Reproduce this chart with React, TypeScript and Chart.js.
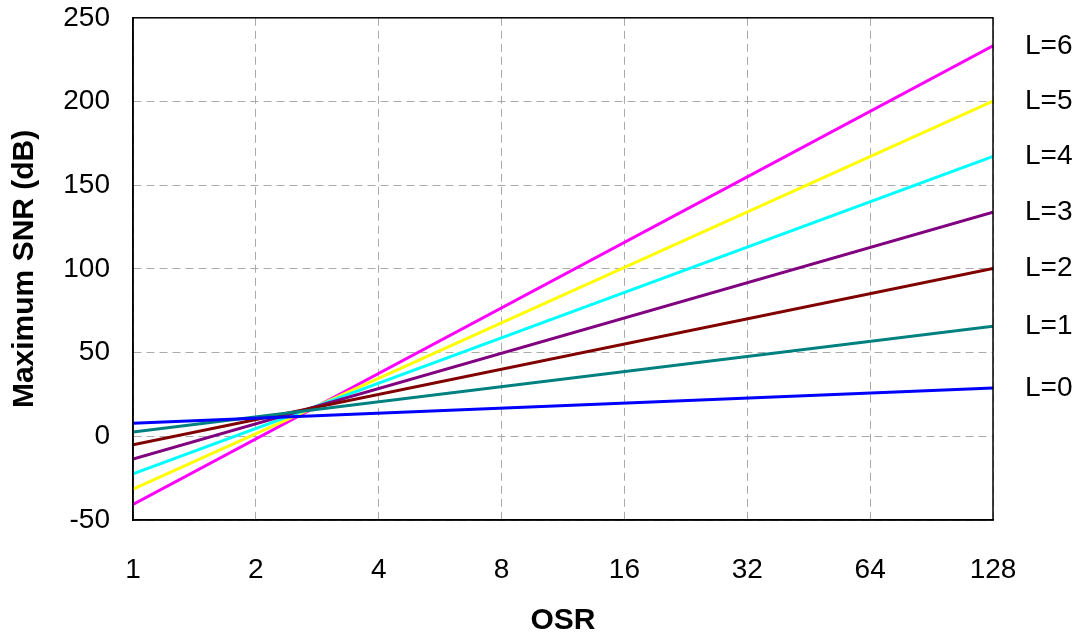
import React, { useEffect, useRef } from "react";
import { Chart, registerables } from "chart.js";

Chart.register(...registerables);

const osrTicks = [1, 2, 4, 8, 16, 32, 64, 128];
const yTicks = [-50, 0, 50, 100, 150, 200, 250];
const osrEnds = [1, 128];

const seriesNames = ["L=0", "L=1", "L=2", "L=3", "L=4", "L=5", "L=6"];
const seriesColors = ["#0000ff", "#008080", "#800000", "#800080", "#00ffff", "#ffff00", "#ff00ff"];

const snrL0 = [7.8, 28.9];
const snrL1 = [2.6, 65.8];
const snrL2 = [-5.1, 100.2];
const snrL3 = [-13.6, 133.9];
const snrL4 = [-22.5, 167.2];
const snrL5 = [-31.5, 200.3];
const snrL6 = [-40.7, 233.2];

const seriesValues = [snrL0, snrL1, snrL2, snrL3, snrL4, snrL5, snrL6];

const FONT = "'Liberation Sans', Arial, Helvetica, sans-serif";
const SHIFT = 22;

const frameAndLabels = {
  id: "frameAndLabels",
  afterDatasetsDraw(chart: any) {
    const { ctx, chartArea } = chart;
    const ys = chart.scales.y;
    ctx.save();
    ctx.strokeStyle = "#000";
    ctx.lineWidth = 1.5;
    ctx.strokeRect(chartArea.left, chartArea.top, chartArea.right - chartArea.left, chartArea.bottom - chartArea.top);
    ctx.fillStyle = "#000";
    ctx.font = `28px ${FONT}`;
    ctx.textAlign = "left";
    ctx.textBaseline = "middle";
    chart.data.datasets.forEach((ds: any) => {
      const last = ds.data[ds.data.length - 1];
      const py = ys.getPixelForValue(last.y);
      ctx.fillText(ds.label, chartArea.right + 32, py);
    });
    ctx.restore();
  },
};

export default function App() {
  const ref = useRef<HTMLCanvasElement | null>(null);
  useEffect(() => {
    if (!ref.current) return;
    const datasets = seriesNames.map((name, i) => ({
      label: name,
      data: osrEnds.map((x, j) => ({ x, y: seriesValues[i][j] })),
      borderColor: seriesColors[i],
      backgroundColor: seriesColors[i],
      borderWidth: 3,
      pointRadius: 0,
      tension: 0,
      fill: false,
    }));
    const chart = new Chart(ref.current, {
      type: "line",
      data: { datasets },
      options: {
        animation: false,
        responsive: false,
        maintainAspectRatio: false,
        layout: { padding: { top: 0, right: 86, left: 0, bottom: 0 } },
        plugins: { legend: { display: false }, tooltip: { enabled: false } },
        scales: {
          x: {
            type: "logarithmic",
            min: 1,
            max: 128,
            afterBuildTicks: (scale: any) => {
              scale.ticks = osrTicks.map((v) => ({ value: v }));
            },
            afterFit: (scale: any) => {
              scale.height = 117;
            },
            ticks: {
              autoSkip: false,
              maxRotation: 0,
              minRotation: 0,
              padding: 33,
              color: "#000",
              font: { size: 28, family: FONT },
              callback: (v: any) => String(v),
            },
            grid: {
              drawTicks: false,
              color: "#aaaaaa",
              lineWidth: 1,
            },
            border: { display: true, color: "#000", width: 1.5, dash: [8, 5] },
            title: {
              display: true,
              text: "OSR",
              color: "#000",
              font: { size: 30, weight: "bold", family: FONT },
              padding: { top: 0, bottom: -2 },
            },
          },
          y: {
            type: "linear",
            min: -50,
            max: 250,
            afterBuildTicks: (scale: any) => {
              scale.ticks = yTicks.map((v) => ({ value: v }));
            },
            afterFit: (scale: any) => {
              scale.width = 133;
            },
            ticks: {
              padding: 23,
              color: "#000",
              font: { size: 28, family: FONT },
              callback: (v: any) => String(v),
            },
            grid: {
              drawTicks: false,
              color: "#aaaaaa",
              lineWidth: 1,
            },
            border: { display: true, color: "#000", width: 1.5, dash: [8, 5] },
            title: {
              display: true,
              text: "Maximum SNR (dB)",
              color: "#000",
              font: { size: 30, weight: "bold", family: FONT },
              padding: { top: 7, bottom: 0 },
            },
          },
        },
      },
      plugins: [frameAndLabels],
    } as any);
    return () => chart.destroy();
  }, []);
  return (
    <div style={{ position: "absolute", left: 0, top: 0, width: 1079, height: 637, background: "#fff", overflow: "hidden" }}>
      <canvas
        ref={ref}
        width={1079}
        height={637 + SHIFT}
        style={{ position: "absolute", left: 0, top: -SHIFT, width: 1079, height: 637 + SHIFT }}
      />
    </div>
  );
}
